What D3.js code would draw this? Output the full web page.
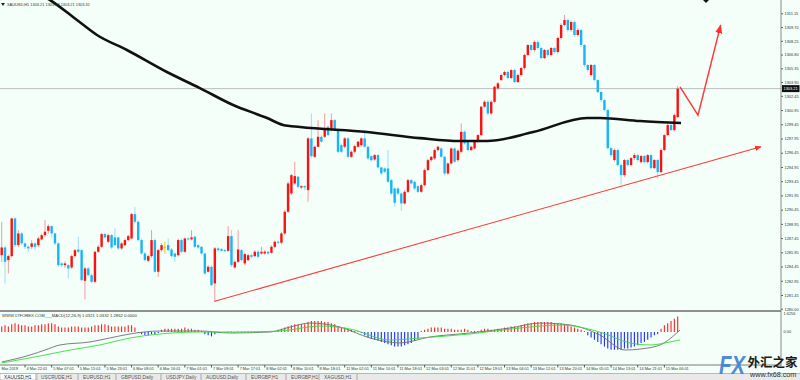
<!DOCTYPE html>
<html>
<head>
<meta charset="utf-8">
<script src="https://cdn.jsdelivr.net/npm/d3@7"></script>
<style>
  html, body { margin: 0; padding: 0; background: #fff; }
  svg { display: block; font-family: "Liberation Sans", "DejaVu Sans", sans-serif; }
</style>
</head>
<body>
<div id="chart"></div>
<script>
// XAUUSD H1 candles: [open, high, low, close]
const ohlc = [
  [1285.65,1289.17,1284.95,1286.46],[1286.46,1286.6,1282.67,1284.95],[1285.13,1285.7,1283.72,1285.55],[1285.55,1289.6,1285.4,1289.52],
  [1289.52,1289.6,1286.5,1286.71],[1286.71,1288.29,1286.5,1287.94],[1287.94,1288.1,1286.7,1286.89],[1286.89,1287.0,1286.3,1286.53],
  [1286.53,1286.7,1286.01,1286.36],[1286.53,1287.24,1286.3,1286.89],[1286.89,1287.0,1286.2,1286.53],[1286.71,1287.6,1286.5,1287.41],
  [1287.31,1287.9,1287.2,1287.76],[1287.76,1289.35,1287.6,1288.12],[1288.22,1288.9,1287.9,1288.71],[1288.71,1288.8,1287.5,1287.94],
  [1287.94,1288.0,1286.7,1286.89],[1286.89,1287.0,1284.4,1284.60],[1284.78,1284.9,1284.4,1284.60],[1284.60,1285.0,1284.3,1284.78],
  [1284.60,1284.7,1283.2,1284.25],[1284.35,1285.7,1284.2,1285.55],[1285.55,1286.3,1285.4,1286.18],[1286.25,1287.59,1285.9,1286.01],
  [1286.18,1286.3,1282.9,1283.02],[1282.95,1284.4,1280.98,1284.25],[1284.25,1284.4,1283.4,1283.54],[1283.54,1283.7,1282.7,1282.84],
  [1282.84,1286.1,1282.7,1286.01],[1286.01,1286.7,1285.9,1286.53],[1286.53,1288.0,1286.4,1287.87],[1287.87,1288.0,1287.4,1287.52],
  [1287.06,1287.9,1286.9,1287.76],[1287.76,1287.9,1286.3,1286.46],[1287.52,1288.47,1286.6,1286.71],[1287.52,1287.6,1286.2,1286.36],
  [1286.36,1287.0,1286.2,1286.89],[1286.71,1287.4,1286.6,1287.24],[1287.24,1287.8,1287.1,1287.66],[1287.41,1290.1,1287.3,1289.98],
  [1289.98,1290.75,1289.0,1289.17],[1289.17,1289.3,1287.1,1287.24],[1287.24,1287.4,1285.7,1285.83],[1285.83,1286.0,1285.0,1285.13],
  [1285.06,1285.7,1284.9,1285.55],[1285.55,1288.29,1285.4,1287.24],[1287.24,1287.4,1283.8,1283.90],[1283.90,1286.3,1283.37,1286.18],
  [1286.18,1286.9,1286.0,1286.71],[1286.53,1287.06,1285.83,1286.53],[1286.71,1287.41,1286.1,1286.18],[1286.25,1286.4,1285.4,1285.55],
  [1285.83,1285.9,1284.95,1285.48],[1285.65,1287.4,1285.5,1287.24],[1287.24,1287.4,1285.9,1286.01],[1286.01,1287.5,1285.9,1287.41],
  [1287.41,1287.5,1287.2,1287.31],[1287.31,1288.29,1287.2,1287.52],[1287.59,1287.7,1286.4,1286.53],[1286.71,1286.8,1286.3,1286.46],
  [1286.53,1286.6,1285.7,1285.83],[1285.83,1285.9,1283.6,1283.72],[1283.90,1284.6,1283.8,1284.42],[1284.42,1284.6,1282.4,1282.49],
  [1282.67,1286.5,1280.73,1286.36],[1286.36,1286.5,1286.0,1286.18],[1286.29,1286.4,1286.0,1286.11],[1286.18,1286.3,1286.0,1286.11],
  [1286.11,1288.71,1286.0,1287.66],[1287.66,1288.29,1284.4,1284.60],[1284.35,1285.1,1284.2,1284.95],[1284.95,1288.29,1284.8,1286.25],
  [1286.18,1286.3,1285.0,1285.13],[1284.78,1285.9,1284.6,1285.76],[1285.13,1285.8,1285.0,1285.65],[1285.65,1285.8,1285.3,1285.48],
  [1285.55,1286.2,1285.4,1286.01],[1286.01,1286.2,1285.3,1285.48],[1285.83,1286.53,1285.7,1286.01],[1285.83,1286.2,1285.7,1286.01],
  [1286.01,1286.1,1285.7,1285.83],[1285.90,1286.7,1285.8,1286.53],[1286.53,1287.2,1286.4,1287.06],[1287.06,1287.2,1286.8,1286.96],
  [1286.96,1288.1,1286.8,1287.94],[1287.94,1290.4,1287.8,1290.23],[1290.23,1293.4,1290.1,1293.21],[1292.16,1294.2,1292.0,1294.09],
  [1293.21,1295.50,1293.1,1293.99],[1293.92,1294.0,1292.7,1292.86],[1292.79,1293.0,1292.6,1292.93],[1292.93,1293.0,1292.5,1292.79],
  [1292.51,1298.1,1291.28,1297.96],[1297.96,1300.59,1295.9,1296.09],[1296.02,1297.2,1295.9,1297.08],[1297.08,1299.89,1297.0,1298.13],
  [1298.13,1298.3,1297.5,1297.61],[1298.13,1300.59,1298.0,1299.01],[1299.19,1299.3,1298.2,1298.31],[1298.84,1300.59,1298.7,1299.89],
  [1299.89,1300.0,1298.7,1298.84],[1298.84,1298.9,1296.4,1296.55],[1297.25,1297.4,1296.4,1296.55],[1297.08,1298.1,1296.9,1297.96],
  [1297.96,1298.1,1295.9,1296.02],[1296.02,1296.7,1295.9,1296.55],[1296.55,1297.3,1296.4,1297.15],[1297.08,1297.7,1297.0,1297.61],
  [1297.25,1298.1,1297.1,1297.96],[1297.96,1298.84,1297.0,1297.08],[1297.08,1297.2,1295.7,1295.85],[1296.09,1296.2,1295.5,1295.67],
  [1295.74,1296.3,1295.6,1296.20],[1296.20,1296.3,1294.8,1294.90],[1294.90,1295.0,1294.1,1294.27],[1294.79,1294.9,1294.3,1294.44],
  [1294.79,1296.73,1293.3,1293.39],[1293.56,1293.7,1292.0,1292.15],[1292.68,1292.8,1290.75,1291.17],[1292.68,1292.8,1292.0,1292.15],
  [1292.15,1292.3,1290.33,1291.10],[1291.10,1292.5,1291.0,1292.33],[1292.33,1293.7,1292.2,1293.56],[1293.56,1293.7,1293.1,1293.21],
  [1293.39,1293.5,1292.5,1292.68],[1292.93,1293.0,1292.2,1292.33],[1292.33,1293.2,1292.2,1293.03],[1293.03,1294.8,1292.9,1294.62],
  [1294.62,1295.8,1294.5,1295.67],[1295.67,1296.1,1295.5,1296.02],[1295.85,1296.9,1295.7,1296.73],[1296.73,1297.2,1296.6,1297.08],
  [1296.90,1297.0,1295.9,1296.02],[1296.02,1296.1,1294.1,1294.27],[1294.27,1295.4,1294.1,1295.32],[1295.32,1297.0,1295.2,1296.90],
  [1296.90,1297.0,1295.4,1295.50],[1295.67,1296.8,1295.5,1296.66],[1296.55,1299.54,1296.4,1298.66],[1298.66,1298.84,1297.3,1297.43],
  [1297.61,1297.7,1296.6,1296.73],[1296.73,1297.2,1296.6,1297.08],[1296.90,1297.7,1296.8,1297.61],[1297.61,1298.4,1297.5,1298.31],
  [1298.31,1301.4,1298.2,1301.30],[1301.30,1302.0,1301.2,1301.82],[1301.82,1302.0,1300.4,1300.59],[1300.59,1302.0,1300.4,1301.82],
  [1301.82,1303.5,1301.7,1303.41],[1303.23,1303.9,1303.1,1303.76],[1304.11,1304.8,1304.0,1304.64],[1304.64,1305.1,1304.5,1304.96],
  [1304.96,1305.1,1304.2,1304.33],[1304.33,1305.3,1304.2,1305.17],[1305.17,1305.3,1303.8,1303.90],[1303.90,1304.8,1303.8,1304.64],
  [1304.64,1305.5,1304.5,1305.38],[1305.38,1306.9,1305.2,1306.75],[1306.75,1307.9,1306.6,1307.81],[1307.81,1307.9,1307.1,1307.28],
  [1307.28,1308.3,1307.1,1308.12],[1308.12,1308.3,1307.3,1307.49],[1307.49,1307.6,1306.3,1306.43],[1306.43,1307.4,1306.3,1307.28],
  [1307.28,1307.4,1306.6,1306.75],[1306.75,1307.6,1306.6,1307.49],[1307.49,1307.6,1306.9,1307.07],[1307.07,1308.7,1306.9,1308.55],
  [1308.55,1310.1,1308.4,1309.92],[1309.92,1310.97,1309.8,1310.44],[1310.44,1310.6,1309.2,1309.39],[1309.39,1310.4,1309.2,1310.23],
  [1310.23,1310.4,1308.7,1308.86],[1308.86,1309.6,1308.7,1309.39],[1309.39,1309.5,1307.6,1307.81],[1307.81,1307.9,1305.5,1305.70],
  [1305.70,1305.8,1305.0,1305.17],[1304.64,1305.8,1304.5,1305.70],[1305.70,1305.8,1304.0,1304.11],[1304.11,1304.2,1302.7,1302.85],
  [1302.85,1303.0,1301.8,1302.00],[1302.00,1302.1,1300.8,1300.95],[1300.95,1301.1,1296.8,1296.94],[1296.94,1297.1,1296.0,1296.20],
  [1295.68,1296.9,1295.5,1296.73],[1296.73,1296.9,1295.0,1295.15],[1295.15,1295.3,1293.04,1294.09],[1294.09,1295.8,1293.9,1295.68],
  [1295.68,1295.8,1295.0,1295.15],[1295.15,1296.0,1295.0,1295.89],[1295.89,1296.4,1295.7,1296.20],[1296.20,1296.3,1295.5,1295.68],
  [1295.46,1296.2,1295.3,1296.10],[1296.10,1296.2,1295.3,1295.46],[1295.46,1296.3,1295.3,1296.20],[1296.20,1296.3,1294.7,1294.83],
  [1294.83,1295.8,1294.7,1295.68],[1295.68,1295.8,1293.78,1294.41],[1294.41,1296.9,1294.3,1296.73],[1296.73,1298.4,1296.6,1298.31],
  [1298.31,1299.5,1298.2,1299.37],[1299.37,1299.5,1298.7,1298.84],[1298.84,1300.6,1298.7,1300.42],[1300.21,1303.48,1300.1,1303.21]
];

// moving average: [bar index, price]
const maPoints = [
  [10,1313.4],[14.5,1312.55],[22.6,1310.44],[28.6,1308.86],[37.6,1307.28],[49.6,1304.96],[59.5,1303.27],
  [69.5,1301.48],[79.7,1300.11],[84.5,1299.37],[89.6,1299.16],[109.7,1298.63],[125.6,1297.99],[137.6,1297.68],
  [145.7,1297.68],[159.6,1298.63],[175.8,1300.11],[179.7,1300.11],[191.7,1299.79],[204,1299.58]
];

const priceTicks = [1311.15,1309.70,1308.25,1306.80,1305.35,1303.90,1302.45,1300.95,1299.45,1297.95,1296.45,
  1294.95,1293.45,1291.95,1290.45,1288.95,1287.45,1285.95,1284.45,1282.95,1281.45,1280.00];
const lastPrice = 1303.21;

const timeLabels = ['4 Mar 22:01','5 Mar 07:01','5 Mar 15:01','5 Mar 23:01','6 Mar 08:01','6 Mar 16:01','7 Mar 01:01',
  '7 Mar 09:01','7 Mar 17:01','8 Mar 02:01','8 Mar 10:01','8 Mar 18:01','11 Mar 02:01','11 Mar 10:01','11 Mar 18:01',
  '12 Mar 03:01','12 Mar 11:01','12 Mar 19:01','13 Mar 04:01','13 Mar 12:01','13 Mar 20:01','14 Mar 05:01',
  '14 Mar 13:01','14 Mar 21:01','15 Mar 06:01'];
const timeBars = [7,15,23,31,39,47,55,63,71,79,87,95,103,111,119,127,135,143,151,159,167,175,183,191,199];

// drawn objects: support trendline and forecast path, [bar index, price]
const trendLine = [[64,1280.8],[228,1297.08]];
const forecast = [[203.7,1303.4],[209.1,1300.41],[215.9,1309.9]];

// MACD(12,26,9) histogram per bar
const macdHist = [
  0.5,0.6,0.5,0.7,0.8,0.7,0.6,0.6,0.5,0.5,0.6,0.6,0.7,0.7,0.8,0.8,0.7,0.5,0.4,0.4,
  0.4,0.5,0.5,0.5,0.4,0.4,0.4,0.5,0.6,0.6,0.7,0.7,0.6,0.5,0.5,0.5,0.5,0.5,0.6,0.6,
  0.4,-0.1,-0.2,-0.3,-0.3,-0.2,-0.2,-0.1,0.2,0.3,0.3,0.3,0.3,0.3,0.3,0.4,0.3,0.3,0.2,0.2,
  0.1,-0.2,-0.3,-0.4,-0.2,-0.1,-0.05,-0.05,0.05,0.05,-0.05,0.05,0.05,0.05,0.05,0.05,0.05,0.05,0.05,0.1,
  0.1,0.1,0.1,0.2,0.3,0.4,0.5,0.6,0.7,0.7,0.7,0.7,0.9,1.0,1.0,1.0,1.0,0.9,0.9,0.8,
  0.7,0.5,0.4,0.4,0.3,0.2,0.1,0.1,-0.1,-0.3,-0.5,-0.6,-0.7,-0.8,-0.9,-1.0,-1.1,-1.2,-1.3,-1.3,
  -1.3,-1.2,-1.1,-1.0,-0.8,-0.6,0.1,0.2,0.3,0.4,0.4,0.4,0.4,0.3,0.3,0.3,0.2,0.2,0.2,0.3,
  0.2,0.1,0.1,0.1,0.2,0.3,0.3,0.2,0.2,0.3,0.3,0.4,0.4,0.5,0.5,0.5,0.6,0.7,0.8,0.8,
  0.9,0.9,0.9,0.9,0.9,0.9,0.8,0.8,0.8,0.7,0.6,0.5,0.4,0.3,0.2,0.1,-0.3,-0.5,-0.7,-0.9,
  -1.1,-1.3,-1.5,-1.6,-1.6,-1.6,-1.6,-1.5,-1.5,-1.4,-1.3,-1.2,-1.0,-0.9,-0.7,-0.5,-0.3,-0.2,0.3,0.6,
  0.8,1.0,1.2,1.4
];
const macdMain = [[0,-2.71],[8.5,-2.08],[13,-1.63],[17.5,-1.17],[26.5,-0.90],[32.5,-0.54],[38.5,-0.18],[47.5,0.09],
  [59.6,0.09],[68.6,-0.09],[80.6,0],[86.6,0.45],[92.6,0.81],[101.6,0.45],[110.6,-0.54],[119.6,-0.99],[128.6,-0.45],
  [140.6,-0.09],[152.6,0.36],[161.6,0.81],[170.7,0.63],[179.6,-0.27],[187.2,-1.63],[191.7,-1.54],[197.7,-1.17],[203.7,0.18]];
const macdSignal = [[0,-2.80],[11.5,-2.17],[20.5,-1.63],[29.5,-1.17],[38.5,-0.54],[47.5,-0.18],[59.6,0],[71.6,0],
  [83.6,0.09],[95.6,0.54],[104.6,0.27],[116.6,-0.72],[125.6,-0.54],[140.6,-0.18],[155.6,0.36],[167.7,0.63],[179.6,0],
  [188.7,-0.99],[194.7,-1.17],[200.7,-0.90],[203.7,-0.72]];

const tabs = ['XAUUSD,H1','USCRUDE,H1','EURUSD,H1','GBPUSD,Daily','USDJPY,Daily','AUDUSD,Daily','EURGBP,H1','EURGBP,H1','XAGUSD,H1'];
const tabEdges = [0, 37, 79, 117, 162, 202, 247, 287, 320, 358];

const W = 800, H = 380;
const BG = '#F3FFF8';
const UP = '#FF1010', UP_WICK = '#F49A9A';
const DN = '#18B4F8', DN_WICK = '#9EDCFA';
const AXIS_X = 781;

const svg = d3.select('#chart').append('svg').attr('width', W).attr('height', H);
svg.append('rect').attr('width', W).attr('height', H).attr('fill', BG);

const x = d3.scaleLinear().domain([0, 230]).range([1.7, 1.7 + 3.33 * 230]);
const y = d3.scaleLinear().domain([1281.45, 1311.15]).range([295, 13.3]);
const ym = d3.scaleLinear().domain([0, 1.6256]).range([332, 314]);

const defs = svg.append('defs');
defs.append('clipPath').attr('id', 'mainClip').append('rect').attr('x', 0).attr('y', 0).attr('width', AXIS_X).attr('height', 310);
defs.append('clipPath').attr('id', 'macdClip').append('rect').attr('x', 0).attr('y', 312).attr('width', AXIS_X).attr('height', 52);
defs.append('marker').attr('id', 'arrow').attr('viewBox', '0 0 10 10').attr('refX', 9).attr('refY', 5)
  .attr('markerWidth', 6).attr('markerHeight', 6).attr('orient', 'auto-start-reverse')
  .append('path').attr('d', 'M0,1 L10,5 L0,9 z').attr('fill', '#FF3030');

const main = svg.append('g').attr('clip-path', 'url(#mainClip)');

// last price line
main.append('line').attr('x1', 0).attr('x2', AXIS_X).attr('y1', y(lastPrice)).attr('y2', y(lastPrice))
  .attr('stroke', '#BEBEBE').attr('stroke-width', 1);

// candles
const candle = main.append('g').selectAll('g').data(ohlc).join('g');
candle.append('line')
  .attr('x1', (d, i) => x(i)).attr('x2', (d, i) => x(i))
  .attr('y1', d => y(d[1])).attr('y2', d => y(d[2]))
  .attr('stroke', d => d[3] > d[0] ? UP_WICK : (d[3] < d[0] ? DN_WICK : '#F2C400'))
  .attr('stroke-width', 1);
candle.append('rect')
  .attr('x', (d, i) => x(i) - 1.2).attr('width', 2.4)
  .attr('y', d => y(Math.max(d[0], d[3])))
  .attr('height', d => Math.max(1, Math.abs(y(d[0]) - y(d[3]))))
  .attr('fill', d => d[3] > d[0] ? UP : (d[3] < d[0] ? DN : '#F2C400'));

// moving average
main.append('path').datum(maPoints)
  .attr('d', d3.line().x(d => x(d[0])).y(d => y(d[1])).curve(d3.curveMonotoneX))
  .attr('fill', 'none').attr('stroke', '#111').attr('stroke-width', 2.6);

// trendline and forecast
main.append('path').datum(trendLine)
  .attr('d', d3.line().x(d => x(d[0])).y(d => y(d[1])))
  .attr('fill', 'none').attr('stroke', '#FF3A3A').attr('stroke-width', 1.1).attr('marker-end', 'url(#arrow)');
main.append('line').attr('x1', x(trendLine[0][0])).attr('x2', x(trendLine[0][0]))
  .attr('y1', y(ohlc[64][2])).attr('y2', y(trendLine[0][1])).attr('stroke', '#FF3A3A').attr('stroke-width', 1);
main.append('path').datum(forecast)
  .attr('d', d3.line().x(d => x(d[0])).y(d => y(d[1])))
  .attr('fill', 'none').attr('stroke', '#FF3A3A').attr('stroke-width', 1.5).attr('marker-end', 'url(#arrow)');

// header
svg.append('path').attr('d', 'M1,3 L5,3 L3,6 z').attr('fill', '#222');
svg.append('text').attr('x', 7).attr('y', 6.3).attr('font-size', 3.9).attr('fill', '#333')
  .text('XAUUSD,H1  1303.21 1303.49 1303.21 1303.31');
svg.append('path').attr('d', 'M703,0 L709,0 L706,3 z').attr('fill', '#111');

// price axis
const yAxis = svg.append('g').attr('transform', `translate(${AXIS_X},0)`)
  .call(d3.axisRight(y).tickValues(priceTicks).tickFormat(d3.format('.2f')).tickSize(2).tickPadding(1.5));
yAxis.select('.domain').remove();
yAxis.selectAll('line').attr('stroke', '#555');
yAxis.selectAll('text').attr('font-size', 3.9).attr('fill', '#333').attr('font-family', 'Liberation Sans, sans-serif');
svg.append('line').attr('x1', AXIS_X).attr('x2', AXIS_X).attr('y1', 0).attr('y2', 366).attr('stroke', '#8A8A8A');
svg.append('rect').attr('x', AXIS_X + 1).attr('y', y(lastPrice) - 3.5).attr('width', 17.5).attr('height', 7).attr('fill', '#111');
svg.append('text').attr('x', AXIS_X + 2.5).attr('y', y(lastPrice) + 1.5).attr('font-size', 3.9).attr('fill', '#fff').text(lastPrice.toFixed(2));

// panel separators
svg.append('line').attr('x1', 0).attr('x2', AXIS_X).attr('y1', 311).attr('y2', 311).attr('stroke', '#6B6B6B').attr('stroke-width', 1.5);
svg.append('line').attr('x1', 0).attr('x2', AXIS_X).attr('y1', 365).attr('y2', 365).attr('stroke', '#7A7A7A').attr('stroke-width', 1);

// MACD panel
const mg = svg.append('g').attr('clip-path', 'url(#macdClip)');
mg.append('g').selectAll('line').data(macdHist).join('line')
  .attr('x1', (d, i) => x(i)).attr('x2', (d, i) => x(i))
  .attr('y1', ym(0)).attr('y2', d => ym(d))
  .attr('stroke', d => d >= 0 ? '#FF2020' : '#1E2CFF').attr('stroke-width', 1.1);
mg.append('path').datum(macdMain)
  .attr('d', d3.line().x(d => x(d[0])).y(d => ym(d[1])).curve(d3.curveMonotoneX))
  .attr('fill', 'none').attr('stroke', '#6E6E6E').attr('stroke-width', 0.9);
mg.append('path').datum(macdSignal)
  .attr('d', d3.line().x(d => x(d[0])).y(d => ym(d[1])).curve(d3.curveMonotoneX))
  .attr('fill', 'none').attr('stroke', '#3BDB3B').attr('stroke-width', 0.9);
svg.append('text').attr('x', 2).attr('y', 316.8).attr('font-size', 4.2).attr('fill', '#333')
  .text('WWW.17FOREX.COM___MACD(12,26,9) 1.0321 1.0332 1.2862 0.0000');
svg.append('text').attr('x', AXIS_X + 2.5).attr('y', 315).attr('font-size', 3.9).attr('fill', '#333').text('1.6256');
svg.append('text').attr('x', AXIS_X + 2.5).attr('y', 333.3).attr('font-size', 3.9).attr('fill', '#333').text('0.00');

// time axis
const tg = svg.append('g');
tg.selectAll('line').data(timeBars).join('line')
  .attr('x1', d => x(d)).attr('x2', d => x(d)).attr('y1', 365).attr('y2', 367.5).attr('stroke', '#555');
tg.selectAll('text').data(timeLabels).join('text')
  .attr('x', (d, i) => x(timeBars[i]) + 1.5).attr('y', 370.3)
  .attr('font-size', 3.9).attr('fill', '#333').text(d => d);
svg.append('text').attr('x', 1.5).attr('y', 370.3).attr('font-size', 3.9).attr('fill', '#333').text('Mar 2019');

// tab bar
svg.append('rect').attr('x', 0).attr('y', 373).attr('width', W).attr('height', 7).attr('fill', '#E9E9E9');
svg.append('line').attr('x1', 0).attr('x2', W).attr('y1', 373.5).attr('y2', 373.5).attr('stroke', '#B8B8B8');
svg.append('rect').attr('x', 0).attr('y', 373.5).attr('width', 37).attr('height', 6.5).attr('fill', '#fff').attr('stroke', '#999').attr('stroke-width', 0.5);
const tab = svg.append('g').selectAll('g').data(tabs).join('g');
tab.append('text').attr('x', (d, i) => tabEdges[i] + 4).attr('y', 379).attr('font-size', 4.8)
  .attr('fill', (d, i) => i === 0 ? '#222' : '#555').text(d => d);
tab.append('line')
  .attr('x1', (d, i) => tabEdges[i + 1] - 1).attr('x2', (d, i) => tabEdges[i + 1] - 1)
  .attr('y1', 374).attr('y2', 380).attr('stroke', '#A8A8A8');

// watermark
const wm = svg.append('g');
wm.append('text').attr('x', 719).attr('y', 374).attr('font-size', 26).attr('font-weight', 'bold').attr('font-style', 'italic')
  .attr('textLength', 26).attr('lengthAdjust', 'spacingAndGlyphs')
  .attr('fill', '#3F7FD6').attr('font-family', 'Liberation Sans, sans-serif').attr('opacity', 0.9).text('FX');
wm.append('text').attr('x', 747.5).attr('y', 367).attr('font-size', 12.5).attr('font-weight', 'bold')
  .attr('fill', '#1A1A1A').attr('font-family', 'Noto Sans CJK SC, sans-serif').text('外汇之家');
wm.append('text').attr('x', 750).attr('y', 377).attr('font-size', 7.2)
  .attr('fill', '#333').text('www.fx68.com');
</script>
</body>
</html>
